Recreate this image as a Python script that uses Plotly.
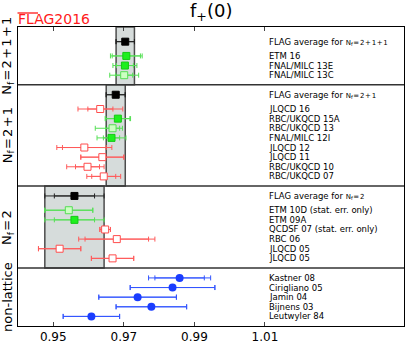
import plotly.graph_objects as go

# ---- data ----
HS = "\u200a"  # hair space for tight math-like spacing
panel_titles = [
    "N<sub>f</sub>" + HS + "=" + HS + "2" + HS + "+" + HS + "1" + HS + "+" + HS + "1",
    "N<sub>f</sub>" + HS + "=" + HS + "2" + HS + "+" + HS + "1",
    "N<sub>f</sub>" + HS + "=" + HS + "2",
    "non-lattice",
]

flag_labels = [
    "FLAG average for <span style='font-size:7px'>N<sub>f</sub>" + HS + "=" + HS + "2" + HS + "+" + HS + "1" + HS + "+" + HS + "1</span>",
    "FLAG average for <span style='font-size:7px'>N<sub>f</sub>" + HS + "=" + HS + "2" + HS + "+" + HS + "1</span>",
    "FLAG average for <span style='font-size:7px'>N<sub>f</sub>" + HS + "=" + HS + "2</span>",
]
flag_vals = [0.9704, 0.9677, 0.9560]
flag_stat = [0.0026, 0.0027, 0.0057]
flag_tot = [0.0026, 0.0027, 0.0084]

names_2p1p1 = ["ETM 16", "FNAL/MILC 13E", "FNAL/MILC 13C"]
vals_2p1p1 = [0.9707, 0.9703, 0.9701]
stat_m_2p1p1 = [0.0040, 0.0024, 0.0024]
stat_p_2p1p1 = [0.0040, 0.0024, 0.0024]
tot_m_2p1p1 = [0.0045, 0.0034, 0.0041]
tot_p_2p1p1 = [0.0045, 0.0034, 0.0041]
kind_2p1p1 = ["green", "green", "pale"]

names_2p1 = ["JLQCD 16", "RBC/UKQCD 15A", "RBC/UKQCD 13", "FNAL/MILC 12I",
             "JLQCD 12", "JLQCD 11", "RBC/UKQCD 10", "RBC/UKQCD 07"]
vals_2p1 = [0.9633, 0.9683, 0.9668, 0.9665, 0.9588, 0.9639, 0.9597, 0.9643]
stat_m_2p1 = [0.0035, 0.0034, 0.0020, 0.0023, 0.0062, 0.0061, 0.0034, 0.0034]
stat_p_2p1 = [0.0036, 0.0034, 0.0020, 0.0023, 0.0062, 0.0061, 0.0034, 0.0034]
tot_m_2p1 = [0.0063, 0.0036, 0.0049, 0.0041, 0.0078, 0.0061, 0.0059, 0.0048]
tot_p_2p1 = [0.0064, 0.0036, 0.0028, 0.0041, 0.0078, 0.0061, 0.0047, 0.0048]
kind_2p1 = ["red", "green", "pale", "green", "red", "red", "red", "red"]

names_2 = ["ETM 10D (stat. err. only)", "ETM 09A", "QCDSF 07 (stat. err. only)",
           "RBC 06", "JLQCD 05", "JLQCD 05"]
vals_2 = [0.9544, 0.9560, 0.9647, 0.9680, 0.9518, 0.9668]
stat_m_2 = [0.0068, 0.0057, 0.0015, 0.0090, 0.0060, 0.0060]
stat_p_2 = [0.0068, 0.0057, 0.0015, 0.0090, 0.0060, 0.0060]
tot_m_2 = [0.0068, 0.0084, 0.0015, 0.0108, 0.0060, 0.0060]
tot_p_2 = [0.0068, 0.0084, 0.0015, 0.0108, 0.0060, 0.0060]
kind_2 = ["pale", "green", "red", "red", "red", "red"]

names_nl = ["Kastner 08", "Cirigliano 05", "Jamin 04", "Bijnens 03", "Leutwyler 84"]
vals_nl = [0.9858, 0.9838, 0.9739, 0.9778, 0.9608]
stat_m_nl = [0.0070, 0.0120, 0.0110, 0.0100, 0.0080]
stat_p_nl = [0.0070, 0.0120, 0.0110, 0.0100, 0.0080]
tot_m_nl = [0.0088, 0.0120, 0.0110, 0.0100, 0.0080]
tot_p_nl = [0.0088, 0.0120, 0.0110, 0.0100, 0.0080]
kind_nl = ["blue"] * 5

xtick_vals = [0.95, 0.97, 0.99, 1.01]

panels = [
    (names_2p1p1, vals_2p1p1, stat_m_2p1p1, stat_p_2p1p1, tot_m_2p1p1, tot_p_2p1p1, kind_2p1p1),
    (names_2p1, vals_2p1, stat_m_2p1, stat_p_2p1, tot_m_2p1, tot_p_2p1, kind_2p1),
    (names_2, vals_2, stat_m_2, stat_p_2, tot_m_2, tot_p_2, kind_2),
    (names_nl, vals_nl, stat_m_nl, stat_p_nl, tot_m_nl, tot_p_nl, kind_nl),
]

# ---- row layout (vertical units ~ pixels) ----
ROW = 9.65
FLAG_GAP = 14.3
TOP_PAD = [14.7, 10.0, 10.0, 10.0]
BOT_PAD = 9.6
LABEL_X = 1.0105
LABEL_SIZE = 8.5

styles = {
    "avg":   dict(symbol="square", size=7, color="#000000", line=dict(color="#000000", width=1)),
    "green": dict(symbol="square", size=7, color="#1ef01e", line=dict(color="#14c814", width=1)),
    "pale":  dict(symbol="square", size=7, color="#ccffc2", line=dict(color="#55dd55", width=1)),
    "red":   dict(symbol="square", size=7, color="#ffffff", line=dict(color="#ff4d4d", width=1)),
    "blue":  dict(symbol="circle", size=8, color="#1a3dff", line=dict(color="#1a3dff", width=0)),
}
bar_colors = {"avg": "#222222", "green": "#55e055", "pale": "#55e055",
              "red": "#ff5a5a", "blue": "#3355ff"}

groups = {k: dict(x=[], y=[], sm=[], sp=[], tm=[], tp=[]) for k in styles}
annotations = []
shapes = []

y = 0.0
bounds = []
for p, (names, vals, sm, sp, tm, tp, kinds) in enumerate(panels):
    top = y
    if p < len(flag_vals):
        fy = top + TOP_PAD[p]
        first = fy + FLAG_GAP
        g = groups["avg"]
        g["x"].append(flag_vals[p]); g["y"].append(fy)
        g["sm"].append(flag_stat[p]); g["sp"].append(flag_stat[p])
        g["tm"].append(flag_tot[p]); g["tp"].append(flag_tot[p])
        annotations.append(dict(x=LABEL_X, y=fy, xref="x", yref="y",
                                text=flag_labels[p], showarrow=False, xanchor="left",
                                yanchor="middle", font=dict(size=LABEL_SIZE, color="black")))
    else:
        fy = None
        first = top + TOP_PAD[p]
    ys = [first + i * ROW for i in range(len(vals))]
    for i in range(len(vals)):
        g = groups[kinds[i]]
        g["x"].append(vals[i]); g["y"].append(ys[i])
        g["sm"].append(sm[i]); g["sp"].append(sp[i])
        g["tm"].append(tm[i]); g["tp"].append(tp[i])
        annotations.append(dict(x=LABEL_X, y=ys[i], xref="x", yref="y", text=names[i],
                                showarrow=False, xanchor="left", yanchor="middle",
                                font=dict(size=LABEL_SIZE, color="black")))
    bottom = ys[-1] + BOT_PAD
    if fy is not None:
        shapes.append(dict(type="rect", xref="x", yref="y",
                           x0=flag_vals[p] - flag_tot[p], x1=flag_vals[p] + flag_tot[p],
                           y0=top, y1=bottom, fillcolor="#d6dcdb",
                           line=dict(color="#4d4d4d", width=1.5), layer="below"))
    annotations.append(dict(x=-0.026, y=(top + bottom) / 2, xref="paper", yref="y",
                            text=panel_titles[p], showarrow=False, textangle=-90,
                            xanchor="center", yanchor="middle",
                            font=dict(size=13, color="black")))
    bounds.append(bottom)
    y = bottom

for b in bounds[:-1]:
    shapes.append(dict(type="line", xref="paper", yref="y", x0=0, x1=1, y0=b, y1=b,
                       line=dict(color="#333333", width=1.5)))

fig = go.Figure()
for k, g in groups.items():
    if not g["x"]:
        continue
    # total errors (no visible marker)
    fig.add_trace(go.Scatter(
        x=g["x"], y=g["y"], mode="markers",
        marker=dict(size=1, color="rgba(0,0,0,0)"),
        error_x=dict(type="data", symmetric=False, array=g["tp"], arrayminus=g["tm"],
                     color=bar_colors[k], thickness=1, width=2.5),
        hoverinfo="skip", showlegend=False))
    # statistical errors + markers
    fig.add_trace(go.Scatter(
        x=g["x"], y=g["y"], mode="markers", marker=styles[k],
        error_x=dict(type="data", symmetric=False, array=g["sp"], arrayminus=g["sm"],
                     color=bar_colors[k], thickness=1, width=2.5),
        showlegend=False))

# plot area on screen: 18..404 x 27..326
PL, PT, PW, PH = 18, 27, 386, 299


def px_x(px):
    return (px - PL) / PW


def px_y(py):
    return (PT + PH - py) / PH


annotations.append(dict(x=0.5, y=px_y(12.5), xref="paper", yref="paper",
                        text="f<sub>+</sub>(0)", showarrow=False, xanchor="center",
                        yanchor="middle", font=dict(size=18, color="black")))
annotations.append(dict(x=px_x(16), y=px_y(19), xref="paper", yref="paper",
                        text="FLAG2016", showarrow=False, xanchor="left",
                        yanchor="middle", font=dict(size=14, color="#ff1a1a")))
shapes.append(dict(type="line", xref="paper", yref="paper",
                   x0=px_x(17.5), x1=px_x(38), y0=px_y(13), y1=px_y(13),
                   line=dict(color="#ff1a1a", width=1.3)))

fig.update_layout(
    width=409, height=343,
    margin=dict(l=PL, r=409 - (PL + PW), t=PT, b=343 - (PT + PH)),
    plot_bgcolor="white", paper_bgcolor="white",
    font=dict(family="DejaVu Sans", color="black"),
    xaxis=dict(range=[0.94, 1.0494], tickvals=xtick_vals, ticks="inside", ticklen=4,
               mirror="allticks", showline=True, linecolor="black", linewidth=1,
               showgrid=False, zeroline=False, tickfont=dict(size=12), automargin=False),
    yaxis=dict(range=[y, 0], showticklabels=False, showline=True, mirror=True,
               linecolor="black", linewidth=1, showgrid=False, zeroline=False, ticks="",
               automargin=False),
    annotations=annotations, shapes=shapes,
)

# drop the browser's default 8px body margin so the figure fills the window
fig.write_html("out.html", config={"displayModeBar": False},
               post_script="document.body.style.margin='0';document.body.style.overflow='hidden';")
